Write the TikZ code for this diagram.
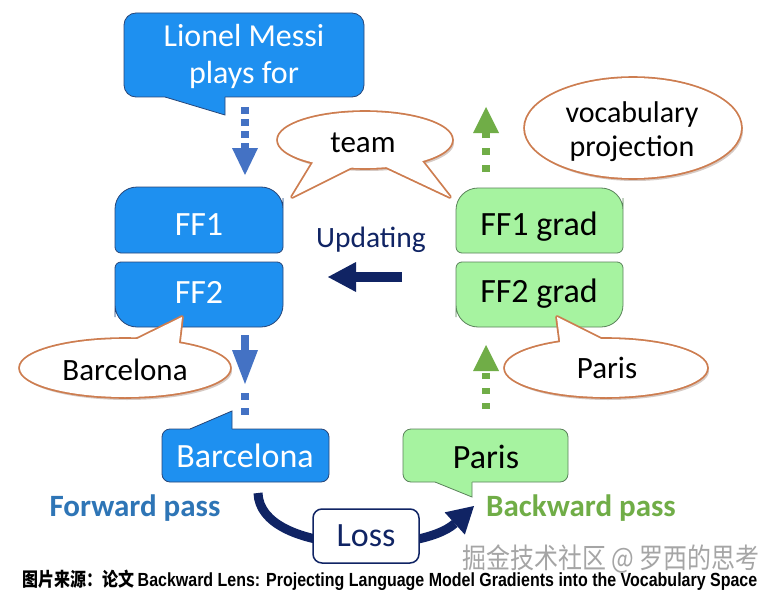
\documentclass[tikz,border=0pt]{standalone}
\usepackage{fontspec}
\usepackage{graphicx}
\setmainfont{Carlito}
\newfontfamily\cjkfont{Noto Sans CJK SC}
\newfontfamily\capfont{Liberation Sans}
\usetikzlibrary{calc,positioning,arrows.meta}
\pgfdeclarelayer{boxes}
\pgfdeclarelayer{rim}
\pgfdeclarelayer{paint}
\pgfsetlayers{boxes,rim,paint,main}
\definecolor{ffblue}{RGB}{30,144,240}
\definecolor{ffline}{RGB}{40,70,120}
\definecolor{gradgreen}{RGB}{166,243,160}
\definecolor{gradline}{RGB}{90,130,90}
\definecolor{dotblue}{RGB}{68,114,196}
\definecolor{dotgreen}{RGB}{112,173,71}
\definecolor{navy}{RGB}{16,36,100}
\definecolor{rimorange}{RGB}{205,125,80}
\definecolor{fwdblue}{RGB}{46,117,182}
\definecolor{markgray}{RGB}{165,165,165}
\definecolor{shadowc}{RGB}{120,80,60}
\tikzset{
	word/.style={font=\fontsize{31}{35}\selectfont, align=center, inner sep=0pt, anchor=base},
	boxword/.style={word, font=\fontsize{34}{38}\selectfont},
	bluebox/.style={draw=ffline, fill=ffblue, line width=0.8pt},
	greenbox/.style={draw=gradline, fill=gradgreen, line width=0.8pt},
	rimline/.style={draw=rimorange, line width=3.6pt, line join=round},
	shadow/.style={fill=shadowc, opacity=0.3},
	bluedots/.style={dotblue, line width=8pt, -{Triangle[width=26pt,length=27pt,line width=0pt]}},
	greendots/.style={dotgreen, line width=8pt, -{Triangle[width=26pt,length=26pt,line width=0pt]}},
	navyarrow/.style={navy, line width=10pt, -{Triangle[width=30pt,length=28pt,line width=0pt]}},
}

\begin{document}
\begin{tikzpicture}[x=1pt, y=-1pt]
	\useasboundingbox (0,0) rectangle (781,591);

	\node[word, text=white, font=\fontsize{32}{37}\selectfont] (messi) at (244,84) {Lionel Messi\\plays for};
	\node[boxword, text=white] (ff1) at (199,235) {FF1};
	\node[boxword, text=white] (ff2) at (199,303) {FF2};
	\node[boxword] (ff1g) at (539,235) {FF1 grad};
	\node[boxword] (ff2g) at (539,302) {FF2 grad};
	\node[word] (team) at (363,152) {team};
	\node[word, font=\fontsize{30}{35}\selectfont] (vocab) at (632,157) {vocabulary\\projection};
	\node[word] (barcabub) at (125,380) {Barcelona};
	\node[word] (parisbub) at (607,378) {Paris};
	\node[word, text=navy, font=\fontsize{29.5}{34}\selectfont] (upd) at (371,247) {Updating};
	\node[boxword, text=white] (barca) at (245,467) {Barcelona};
	\node[boxword] (paris) at (486,468) {Paris};
	\node[word, text=fwdblue, font=\bfseries\fontsize{31}{36}\selectfont] (fwd) at (135,516) {Forward pass};
	\node[word, text=dotgreen, font=\bfseries\fontsize{31}{36}\selectfont] (bwd) at (581,516) {Backward pass};

	\coordinate (messi out) at (245,107);
	\coordinate (ff1 in) at (245,175);
	\coordinate (ff2 out) at (245,335);
	\coordinate (fwd tip) at (245,384);
	\coordinate (barca dot) at (245,393);
	\coordinate (barca in) at (245,415);
	\coordinate (ff1g out) at (486,172);
	\coordinate (vocab in) at (486,107);
	\coordinate (paris out) at (486,409);
	\coordinate (ff2g in) at (486,345);
	\coordinate (upd from) at (402,277);
	\coordinate (upd tip) at (328,277);
	\coordinate (loss in) at (258,493);
	\coordinate (loss out) at (474,506);

	\begin{pgfonlayer}{boxes}
		\fill[white] (0,0) rectangle (781,591);
		\draw[bluebox, rounded corners=12pt] (124,13) rectangle (364,97);
		\fill[ffblue] (165,94) -- (165,97) -- (225,115) -- (225,94) -- cycle;
		\draw[ffline, line width=0.8pt] (165,97) -- (225,115) -- (225,97);
		\draw[bluebox] (115,220) [rounded corners=22pt] -- (115,187) -- (283,187) -- (283,220) [rounded corners=6pt] -- (283,253) -- (115,253) -- cycle;
		\draw[bluebox] (115,295) [rounded corners=6pt] -- (115,262) -- (283,262) -- (283,295) [rounded corners=22pt] -- (283,327) -- (115,327) -- cycle;
		\draw[greenbox] (456,220) [rounded corners=22pt] -- (456,188) -- (623,188) -- (623,220) [rounded corners=6pt] -- (623,253) -- (456,253) -- cycle;
		\draw[greenbox] (456,295) [rounded corners=6pt] -- (456,262) -- (623,262) -- (623,295) [rounded corners=22pt] -- (623,327) -- (456,327) -- cycle;
		\draw[bluebox, rounded corners=8pt] (162,429) rectangle (329,482);
		\fill[ffblue] (190,432) -- (190,429) -- (232,411) -- (232,432) -- cycle;
		\draw[ffline, line width=0.8pt] (190,429) -- (232,411) -- (232,429);
		\draw[greenbox, rounded corners=8pt] (403,429) rectangle (568,482);
		\fill[gradgreen] (435,479) -- (435,482) -- (472,497) -- (472,479) -- cycle;
		\draw[gradline, line width=0.8pt] (435,482) -- (472,497) -- (472,482);
	\end{pgfonlayer}

	\begin{pgfonlayer}{rim}
		\fill[shadow] (367,143) ellipse [x radius=87pt, y radius=28pt];
		\draw[rimline] (365,140) ellipse [x radius=87pt, y radius=28pt];
		\draw[rimline] (317,156) -- (292,197) -- (356,165);
		\draw[rimline] (382,165) -- (450,197) -- (418,156);
		\fill[shadow] (635,131) ellipse [x radius=108pt, y radius=50pt];
		\draw[rimline] (633,128) ellipse [x radius=108pt, y radius=50pt];
		\fill[shadow] (127,371) ellipse [x radius=105pt, y radius=29pt];
		\draw[rimline] (125,368) ellipse [x radius=105pt, y radius=29pt];
		\draw[rimline] (123,346) -- (182,317) -- (178,351);
		\fill[shadow] (608,371) ellipse [x radius=101pt, y radius=29pt];
		\draw[rimline] (606,368) ellipse [x radius=101pt, y radius=29pt];
		\draw[rimline] (561,348) -- (557,317) -- (609,343);
	\end{pgfonlayer}

	\begin{pgfonlayer}{paint}
		\fill[white] (365,140) ellipse [x radius=87pt, y radius=28pt];
		\fill[white] (317,156) -- (292,197) -- (356,165) -- cycle;
		\fill[white] (382,165) -- (450,197) -- (418,156) -- cycle;
		\fill[white] (633,128) ellipse [x radius=108pt, y radius=50pt];
		\fill[white] (125,368) ellipse [x radius=105pt, y radius=29pt];
		\fill[white] (123,346) -- (182,317) -- (178,351) -- cycle;
		\fill[white] (606,368) ellipse [x radius=101pt, y radius=29pt];
		\fill[white] (561,348) -- (557,317) -- (609,343) -- cycle;
	\end{pgfonlayer}

	\draw[bluedots, dash pattern=on 7pt off 5pt] (messi out) -- (ff1 in);
	\draw[bluedots, -{Triangle[width=26pt,length=34pt,line width=0pt]}] (ff2 out) -- (fwd tip);
	\draw[bluedots, -, dash pattern=on 7pt off 8pt] (barca dot) -- (barca in);
	\draw[greendots, dash pattern=on 7pt off 10pt] (ff1g out) -- (vocab in);
	\draw[greendots, dash pattern=on 6pt off 9pt] (paris out) -- (ff2g in);
	\draw[navyarrow] (upd from) -- (upd tip);
	\draw[navy, line width=9pt, -{Triangle[width=30pt,length=26pt,line width=0pt]}] (loss in) .. controls (260,555) and (420,555) .. (loss out);

	\node[font=\fontsize{34}{38}\selectfont, text=navy, draw=navy, fill=white, line width=1.5pt, rounded corners=9pt, minimum width=106, minimum height=54, inner sep=0pt] (loss) at (366,536) {Loss};

	\node[inner sep=0pt, anchor=base, text=markgray] (mark) at (611,568) {\resizebox{297pt}{\height}{\cjkfont\fontsize{28}{28}\selectfont 掘金技术社区 @ 罗西的思考}};
	\node[inner sep=0pt, anchor=base west] (source) at (22,586) {\resizebox{735pt}{\height}{\fontsize{19}{19}\selectfont{\cjkfont\bfseries 图片来源：论文} {\capfont\bfseries Backward Lens: Projecting Language Model Gradients into the Vocabulary Space}}};
\end{tikzpicture}
\end{document}
